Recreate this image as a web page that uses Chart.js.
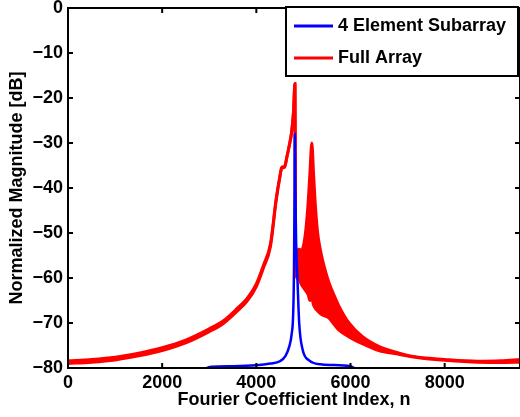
<!DOCTYPE html>
<html>
<head>
<meta charset="utf-8">
<title>Fourier coefficients</title>
<script src="https://cdn.jsdelivr.net/npm/chart.js@4.4.1/dist/chart.umd.min.js"></script>
<style>
  html, body { margin: 0; padding: 0; background: #fff; }
  canvas { display: block; }
</style>
</head>
<body>
<canvas id="fourierChart" width="520" height="417"></canvas>
<script>
// --- Data ------------------------------------------------------------------
var xTicks = [0, 2000, 4000, 6000, 8000];
var yTicks = [0, -10, -20, -30, -40, -50, -60, -70, -80];

// 4 element subarray
var subN  = [2900, 2950, 3050, 3500, 4000, 4300, 4500, 4620, 4700, 4750, 4783, 4800, 4812, 4818,
             4828, 4845, 4874, 4910, 4980, 5120, 5400, 6000, 6080, 6150];
var subDb = [-80.6, -80.0, -79.7, -79.6, -79.4, -79.0, -78.5, -77.3, -75.2, -72.5, -67.8, -58, -40, -28,
             -40, -52, -60.4, -70, -75.8, -78.3, -79.2, -79.6, -80.0, -80.6];

// full array: upper and lower edge of the (oscillating) trace
var fullN     = [0, 500, 1000, 1500, 2000, 2500, 3000, 3300, 3600, 3800, 4000, 4150, 4300, 4420,
                 4500, 4540, 4600, 4650, 4700, 4750, 4790, 4820, 4835, 4900, 4960, 5040, 5100,
                 5140, 5178, 5215, 5250, 5300, 5370, 5450, 5545, 5650, 5757, 5968, 6250, 6600,
                 7000, 7300, 8000, 8700, 9200, 9600];
var fullUpper = [-78.4, -78.1, -77.6, -76.7, -75.5, -73.8, -71.3, -69.5, -66.7, -64.6, -61.3, -57.2, -52.4, -42.5,
                 -37.4, -35.4, -35.2, -33.0, -30.5, -27.5, -23.0, -16.8, -54.8, -53.6, -53.8, -50.3, -43.3,
                 -36.3, -30.0, -36.8, -43.3, -49.8, -54.3, -57.8, -61.1, -63.8, -66.3, -70.0, -73.0, -75.2,
                 -76.6, -77.4, -78.1, -78.5, -78.4, -78.1];
var fullLower = [-79.0, -78.7, -78.2, -77.3, -76.1, -74.4, -71.9, -70.1, -67.3, -65.2, -61.9, -57.8, -53.0, -42.9,
                 -37.6, -35.6, -35.4, -33.1, -30.6, -27.6, -23.1, -16.8, -59.2, -60.2, -61.5, -62.7, -63.7,
                 -65.0, -64.5, -66.0, -66.7, -67.3, -68.0, -68.4, -68.9, -70.3, -71.6, -73.1, -74.6, -76.1,
                 -76.9, -77.5, -78.3, -78.7, -78.8, -78.7];

var FONT = '"Liberation Sans", Arial, Helvetica, sans-serif';

function toPoints(xs, ys){
  return xs.map(function(x, i){ return { x: x, y: ys[i] }; });
}

// --- Frame with inward ticks (MATLAB style box) ----------------------------
var framePlugin = {
  id: 'frame',
  afterDatasetsDraw: function(chart){
    var ctx = chart.ctx, a = chart.chartArea;
    var xs = chart.scales.x, ys = chart.scales.y;
    var len = 5;
    ctx.save();
    ctx.strokeStyle = '#000';
    ctx.lineWidth = 2;
    ctx.beginPath();
    xTicks.forEach(function(v){
      var px = xs.getPixelForValue(v);
      ctx.moveTo(px, a.bottom); ctx.lineTo(px, a.bottom - len);
      ctx.moveTo(px, a.top);    ctx.lineTo(px, a.top + len);
    });
    yTicks.forEach(function(v){
      var py = ys.getPixelForValue(v);
      ctx.moveTo(a.left, py);  ctx.lineTo(a.left + len, py);
      ctx.moveTo(a.right, py); ctx.lineTo(a.right - len, py);
    });
    ctx.stroke();
    ctx.strokeRect(a.left, a.top, a.right - a.left, a.bottom - a.top);
    ctx.restore();
  }
};

// --- Boxed legend in the top right corner ----------------------------------
var legendPlugin = {
  id: 'boxLegend',
  afterDraw: function(chart){
    var ctx = chart.ctx;
    var bx = 286, by = 7, bw = 232, bh = 69;
    ctx.save();
    ctx.fillStyle = '#fff';
    ctx.fillRect(bx, by, bw, bh);
    ctx.strokeStyle = '#000';
    ctx.lineWidth = 2;
    ctx.strokeRect(bx, by, bw, bh);

    var items = [
      { text: '4 Element Subarray', color: '#0000ff', y: 26 },
      { text: 'Full Array',         color: '#ff0000', y: 58 }
    ];
    ctx.font = 'bold 18px ' + FONT;
    ctx.textBaseline = 'middle';
    ctx.textAlign = 'left';
    items.forEach(function(it){
      ctx.strokeStyle = it.color;
      ctx.lineWidth = 3;
      ctx.beginPath();
      ctx.moveTo(294, it.y);
      ctx.lineTo(333, it.y);
      ctx.stroke();
      ctx.fillStyle = '#000';
      ctx.fillText(it.text, 338, it.y);
    });
    ctx.restore();
  }
};

var ctx = document.getElementById('fourierChart').getContext('2d');
new Chart(ctx, {
  type: 'line',
  data: {
    datasets: [{
      label: '4 Element Subarray',
      data: toPoints(subN, subDb),
      borderColor: '#0000ff',
      borderWidth: 2.5,
      pointRadius: 0,
      cubicInterpolationMode: 'monotone',
      fill: false,
      clip: 0,
      order: 0
    },{
      label: 'Full Array',
      data: toPoints(fullN, fullUpper),
      borderColor: '#ff0000',
      borderWidth: 3,
      pointRadius: 0,
      cubicInterpolationMode: 'monotone',
      fill: false,
      clip: 0,
      order: 1
    },{
      label: 'Full Array (lower edge)',
      data: toPoints(fullN, fullLower),
      borderColor: '#ff0000',
      backgroundColor: '#ff0000',
      borderWidth: 3,
      pointRadius: 0,
      cubicInterpolationMode: 'monotone',
      fill: '-1',
      clip: 0,
      order: 1
    }]
  },
  options: {
    responsive: false,
    animation: false,
    events: [],
    layout: { padding: { top: 8, right: -2, left: 0, bottom: 0 } },
    plugins: {
      legend: { display: false },
      tooltip: { enabled: false }
    },
    scales: {
      x: {
        type: 'linear',
        min: 0,
        max: 9600,
        afterFit: function(scale){
          scale.height = 49;
          scale.paddingLeft = 0;
          scale.paddingRight = 0;
        },
        afterBuildTicks: function(scale){
          scale.ticks = xTicks.map(function(v){ return { value: v }; });
        },
        grid: { display: false, drawTicks: false },
        border: { display: false },
        ticks: {
          padding: 4,
          color: '#000',
          maxRotation: 0,
          font: { family: FONT, size: 18, weight: 'bold' },
          callback: function(v){ return String(v); }
        },
        title: {
          display: true,
          text: 'Fourier Coefficient Index, n',
          color: '#000',
          font: { family: FONT, size: 18, weight: 'bold' },
          padding: { top: 0, bottom: 6 }
        }
      },
      y: {
        min: -80,
        max: 0,
        afterFit: function(scale){
          scale.width = 68;
          scale.paddingTop = 0;
          scale.paddingBottom = 0;
        },
        afterBuildTicks: function(scale){
          scale.ticks = yTicks.map(function(v){ return { value: v }; });
        },
        grid: { display: false, drawTicks: false },
        border: { display: false },
        ticks: {
          padding: 5,
          color: '#000',
          font: { family: FONT, size: 18, weight: 'bold' },
          callback: function(v){ return String(v).replace('-', '\u2212'); }
        },
        title: {
          display: true,
          text: 'Normalized Magnitude [dB]',
          color: '#000',
          font: { family: FONT, size: 18, weight: 'bold' },
          padding: { top: 6, bottom: 0 }
        }
      }
    }
  },
  plugins: [framePlugin, legendPlugin]
});
</script>
</body>
</html>
